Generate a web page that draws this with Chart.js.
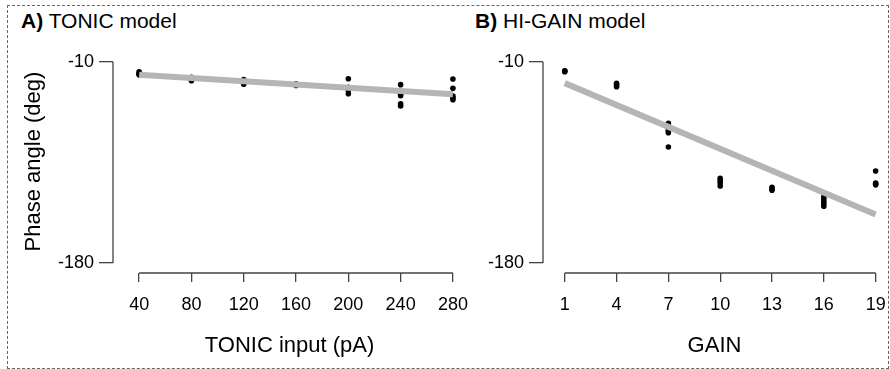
<!DOCTYPE html>
<html>
<head>
<meta charset="utf-8">
<script src="https://cdn.jsdelivr.net/npm/chart.js@4.4.0/dist/chart.umd.min.js"></script>
<style>
  html, body { margin: 0; padding: 0; background: #fff; }
  #wrap { position: relative; width: 890px; height: 369px; overflow: hidden; font-family: 'Liberation Sans', Arial, sans-serif; }
  #frame { position: absolute; left: 7px; top: 5px; width: 882px; height: 364px; box-sizing: border-box; border: 1px dashed #666; }
  .panel { position: absolute; font-size: 21px; color: #000; line-height: 1; }
  .panel b { font-weight: bold; }
  canvas { position: absolute; top: 0; }
</style>
</head>
<body>
<div id="wrap">
  <div id="frame"></div>
  <div class="panel" style="left:21px; top:10px;"><b>A)</b> TONIC model</div>
  <div class="panel" style="left:475px; top:10px;"><b>B)</b> HI-GAIN model</div>
  <canvas id="chartA" width="470" height="369" style="left:0; width:470px; height:369px;"></canvas>
  <canvas id="chartB" width="420" height="369" style="left:470px; width:420px; height:369px;"></canvas>
</div>
<script>
// tick labels
const yTicks  = [-10, -180];
const xTicksA = [40, 80, 120, 160, 200, 240, 280];
const xTicksB = [1, 4, 7, 10, 13, 16, 19];

// A) TONIC model: phase angle (deg) per tonic input (pA)
const tonicX = [40, 40, 40, 40, 80, 80, 80, 80, 120, 120, 120, 120, 160, 160,
                200, 200, 200, 200, 240, 240, 240, 240, 240, 240, 280, 280, 280, 280, 280];
const tonicY = [-18.5, -19.5, -20.5, -21, -23, -24, -25, -26, -25, -26.5, -28, -29, -28.5, -30,
                -24.3, -31.5, -34, -37, -29.3, -36, -37.5, -38.6, -45.4, -47.3, -24.5, -32.4, -39, -40.5, -42];
const tonicFitX = [40, 280];
const tonicFitY = [-21, -37.5];

// B) HI-GAIN model: phase angle (deg) per gain
const gainX = [1, 1, 1, 4, 4, 4, 7, 7, 7, 7, 7, 10, 10, 10, 10, 13, 13, 13,
               16, 16, 16, 16, 16, 19, 19, 19, 19];
const gainY = [-17.5, -18, -18.4, -28.2, -29.5, -31, -62, -67.4, -68.5, -69.9, -82,
               -108.5, -110.5, -112.5, -115, -116, -117.3, -118.6,
               -124, -126, -128, -130, -132, -102.3, -112.4, -113.2, -114];
const gainFitX = [1, 19];
const gainFitY = [-28, -139];

const FONT = "'Liberation Sans', Arial, sans-serif";
const AXIS = '#444';
Chart.defaults.font.family = FONT;
Chart.defaults.color = '#000';

const pts = (xs, ys) => xs.map((x, i) => ({ x, y: ys[i] }));

// R-style axes: line only from first to last tick
const rAxes = {
  id: 'rAxes',
  afterDraw(chart) {
    const { ctx, chartArea, scales: { x, y } } = chart;
    ctx.save();
    ctx.strokeStyle = AXIS;
    ctx.lineWidth = 1.3;
    ctx.beginPath();
    ctx.moveTo(chartArea.left, y.getPixelForValue(yTicks[0]));
    ctx.lineTo(chartArea.left, y.getPixelForValue(yTicks[yTicks.length - 1]));
    const xt = x.ticks;
    ctx.moveTo(x.getPixelForValue(xt[0].value), chartArea.bottom);
    ctx.lineTo(x.getPixelForValue(xt[xt.length - 1].value), chartArea.bottom);
    ctx.stroke();
    ctx.restore();
  }
};

function makeChart(id, xs, ys, fx, fy, xTicks, xMin, xMax, yWidth, xTitle, yTitle) {
  return new Chart(document.getElementById(id), {
    type: 'scatter',
    data: {
      datasets: [
        {
          type: 'line',
          data: pts(fx, fy),
          borderColor: '#b5b5b5',
          borderWidth: 6,
          pointRadius: 0,
          borderCapStyle: 'butt'
        },
        {
          data: pts(xs, ys),
          backgroundColor: '#000',
          borderWidth: 0,
          pointRadius: 2.8
        }
      ]
    },
    options: {
      responsive: false,
      animation: false,
      layout: { padding: { top: 50, right: 0, bottom: 0, left: 0 } },
      plugins: { legend: { display: false }, tooltip: { enabled: false } },
      scales: {
        x: {
          type: 'linear',
          min: xMin,
          max: xMax,
          afterBuildTicks: s => { s.ticks = xTicks.map(v => ({ value: v })); },
          afterFit: s => { s.height = 96; s.paddingLeft = 0; s.paddingRight = 0; },
          border: { display: false },
          grid: { drawOnChartArea: false, drawTicks: true, tickLength: 9, color: AXIS, lineWidth: 1.3 },
          ticks: { color: '#000', font: { family: FONT, size: 18 }, padding: 12, maxRotation: 0, autoSkip: false },
          title: { display: true, text: xTitle, color: '#000', font: { family: FONT, size: 22 }, padding: { top: 0, bottom: 10 } }
        },
        y: {
          type: 'linear',
          min: -188.5,
          max: 0,
          afterBuildTicks: s => { s.ticks = yTicks.map(v => ({ value: v })); },
          afterFit: s => { s.width = yWidth; s.paddingTop = 0; s.paddingBottom = 0; },
          border: { display: false },
          grid: { drawOnChartArea: false, drawTicks: true, tickLength: 14, color: AXIS, lineWidth: 1.3 },
          ticks: { color: '#000', font: { family: FONT, size: 18 }, padding: 5, autoSkip: false },
          title: { display: !!yTitle, text: yTitle, color: '#000', font: { family: FONT, size: 22 }, padding: { top: 21, bottom: 0 } }
        }
      }
    },
    plugins: [rAxes]
  });
}

makeChart('chartA', tonicX, tonicY, tonicFitX, tonicFitY, xTicksA, 20, 290, 113, 'TONIC input (pA)', 'Phase angle (deg)');
makeChart('chartB', gainX, gainY, gainFitX, gainFitY, xTicksB, -0.26, 19.6, 73, 'GAIN', '');
</script>
</body>
</html>
